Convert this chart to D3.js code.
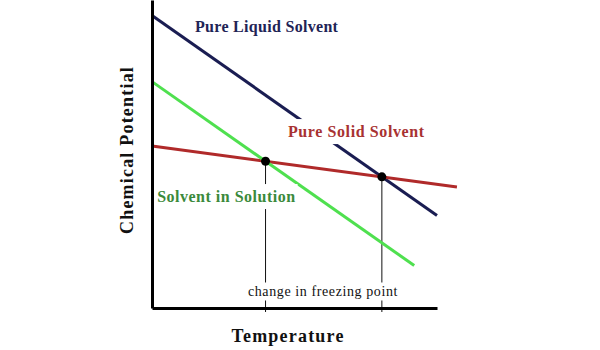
<!DOCTYPE html>
<html>
<head>
<meta charset="utf-8">
<script src="https://cdn.jsdelivr.net/npm/d3@7"></script>
<style>
  html, body { margin: 0; padding: 0; background: #fff; }
  svg { display: block; }
  text { font-family: "Liberation Serif", "Times New Roman", serif; }
</style>
</head>
<body>
<svg id="chart"></svg>
<script>
// lines as [temperature, chemical potential] end points (arbitrary units)
const liquidLine = [[0, 9.5], [10, 3.0]];
const solidLine = [[0, 5.26], [10.7, 3.93]];
const solutionLine = [[0, 7.35], [9.2, 1.38]];

const seriesLabels = [
  { text: 'Pure Liquid Solvent', at: [1.51, 8.96], color: '#1f2456', spacing: 0.3 },
  { text: 'Pure Solid Solvent', at: [4.77, 5.55], color: '#a83232', spacing: 0.6 },
  { text: 'Solvent in Solution', at: [0.18, 3.44], color: '#3b8a3b', spacing: 0.5 }
];
const noteLabel = { text: 'change in freezing point', at: [6.0, 0.39], spacing: 0.6 };
const xTitle = 'Temperature';
const yTitle = 'Chemical Potential';

const width = 600, height = 350;

const svg = d3.select('#chart')
  .attr('width', width)
  .attr('height', height);

const x = d3.scaleLinear().domain([0, 10]).range([152, 437]);
const y = d3.scaleLinear().domain([0, 10]).range([308, 0]);

// where two straight lines cross
function crossing(a, b) {
  const sa = (a[1][1] - a[0][1]) / (a[1][0] - a[0][0]);
  const sb = (b[1][1] - b[0][1]) / (b[1][0] - b[0][0]);
  const ia = a[0][1] - sa * a[0][0];
  const ib = b[0][1] - sb * b[0][0];
  const cx = (ib - ia) / (sa - sb);
  return [cx, ia + sa * cx];
}
const freezePoints = [crossing(solutionLine, solidLine), crossing(liquidLine, solidLine)];

const line = d3.line().x(d => x(d[0])).y(d => y(d[1]));

// drop lines to the axis
svg.append('g')
  .selectAll('line')
  .data(freezePoints)
  .join('line')
  .attr('x1', d => x(d[0]))
  .attr('x2', d => x(d[0]))
  .attr('y1', d => y(d[1]))
  .attr('y2', y(0) + 4)
  .attr('stroke', '#111')
  .attr('stroke-width', 1);

svg.append('g')
  .selectAll('path')
  .data([
    { pts: liquidLine, color: '#1a1d52' },
    { pts: solidLine, color: '#b02a2a' },
    { pts: solutionLine, color: '#4fe04f' }
  ])
  .join('path')
  .attr('d', d => line(d.pts))
  .attr('fill', 'none')
  .attr('stroke', d => d.color)
  .attr('stroke-width', 3);

svg.append('g')
  .selectAll('circle')
  .data(freezePoints)
  .join('circle')
  .attr('cx', d => x(d[0]))
  .attr('cy', d => y(d[1]))
  .attr('r', 4.5)
  .attr('fill', '#000');

// axes without ticks
const xAxis = svg.append('g')
  .attr('transform', `translate(0,${y(0)})`)
  .call(d3.axisBottom(x).tickValues([]).tickSizeOuter(0));
const yAxis = svg.append('g')
  .attr('transform', `translate(${x(0)},0)`)
  .call(d3.axisLeft(y).tickValues([]).tickSizeOuter(0));
xAxis.select('.domain').attr('stroke', '#000').attr('stroke-width', 3);
yAxis.select('.domain').attr('stroke', '#000').attr('stroke-width', 3);

// labels with white boxes that hide the lines behind them
function label(g, d, opts) {
  const t = g.append('text')
    .attr('x', x(d.at[0]))
    .attr('y', y(d.at[1]))
    .attr('text-anchor', opts.anchor || 'start')
    .attr('font-size', opts.size)
    .attr('font-weight', opts.weight)
    .attr('letter-spacing', d.spacing)
    .attr('fill', d.color || '#111')
    .text(d.text);
  const b = t.node().getBBox();
  g.insert('rect', 'text')
    .attr('x', b.x - 2)
    .attr('y', b.y - opts.padY)
    .attr('width', b.width + 4)
    .attr('height', b.height + opts.padY * 2)
    .attr('fill', '#fff');
}

seriesLabels.forEach(d => label(svg.append('g'), d, { size: 16, weight: 'bold', padY: 4 }));
label(svg.append('g'), noteLabel, { size: 14, weight: 'normal', anchor: 'middle', padY: 1.5 });

svg.append('text')
  .attr('x', 288)
  .attr('y', 342)
  .attr('text-anchor', 'middle')
  .attr('font-size', 18)
  .attr('font-weight', 'bold')
  .attr('letter-spacing', 1.2)
  .attr('fill', '#111')
  .text(xTitle);

svg.append('text')
  .attr('transform', 'translate(133,150) rotate(-90)')
  .attr('text-anchor', 'middle')
  .attr('font-size', 18)
  .attr('font-weight', 'bold')
  .attr('letter-spacing', 1.2)
  .attr('fill', '#111')
  .text(yTitle);
</script>
</body>
</html>
